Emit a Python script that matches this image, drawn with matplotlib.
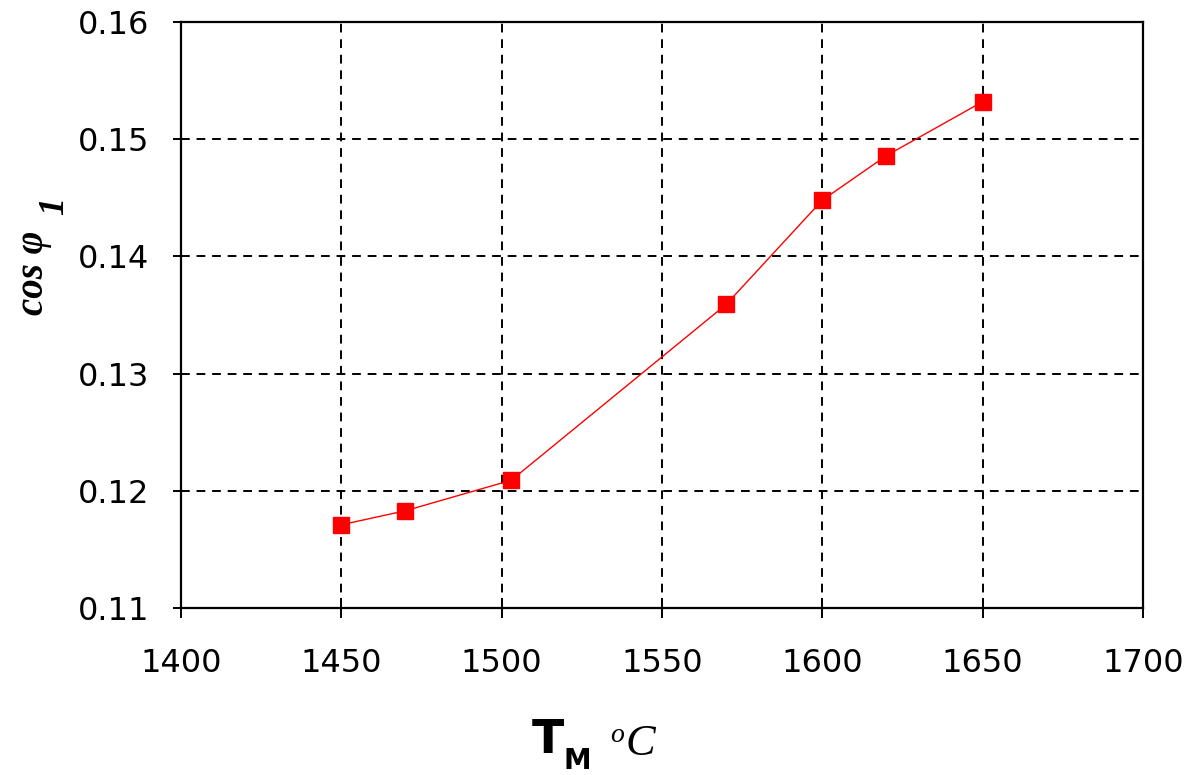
import matplotlib
matplotlib.use('Agg')
from matplotlib import pyplot as plt

# температура металла и cos phi
t_m = [1450, 1470, 1503, 1570, 1600, 1620, 1650]
cos_phi = [0.1171, 0.1183, 0.1209, 0.1359, 0.1448, 0.1486, 0.1532]

x_ticks = [1400, 1450, 1500, 1550, 1600, 1650, 1700]
y_ticks = [0.11, 0.12, 0.13, 0.14, 0.15, 0.16]

W, H = 1190, 775
fig = plt.figure(figsize=(W / 100, H / 100), dpi=100)
ax = fig.add_axes([181 / W, 1 - 608 / H, (1143 - 181) / W, (608 - 22) / H])

ax.plot(t_m, cos_phi, color='red', lw=1.0, marker='s', markersize=11,
        markerfacecolor='red', markeredgecolor='red', zorder=3)

ax.set_xlim(1400, 1700)
ax.set_ylim(0.11, 0.16)
ax.set_xticks(x_ticks)
ax.set_yticks(y_ticks)
ax.set_xticklabels([str(v) for v in x_ticks])
ax.set_yticklabels([f'{v:.2f}' for v in y_ticks])

ax.grid(True, color='black', linestyle=(0, (4.5, 3.5)), lw=1.4)
for s in ax.spines.values():
    s.set_linewidth(1.6)
    s.set_color('black')

ax.tick_params(axis='x', direction='inout', length=14, width=1.4, pad=22,
               labelsize=23, colors='black')
ax.tick_params(axis='y', direction='out', length=6, width=1.4, pad=17,
               labelsize=23, colors='black')
for lb in ax.get_xticklabels() + ax.get_yticklabels():
    lb.set_family('DejaVu Sans')

# подпись оси Y: cos φ_1
fig.text(34 / W, 1 - 315 / H, 'cos φ', rotation=90, ha='center', va='bottom',
         family='Liberation Serif', fontstyle='italic', fontweight='bold',
         fontsize=28)
fig.text(55 / W, 1 - 215 / H, '1', rotation=90, ha='center', va='bottom',
         family='Liberation Serif', fontstyle='italic', fontweight='bold',
         fontsize=26)

# подпись оси X: T_M °C
fig.text(532 / W, 1 - 753 / H, 'T', ha='left', va='baseline',
         family='DejaVu Sans', fontweight='bold', fontsize=34)
fig.text(563 / W, 1 - 769 / H, 'M', ha='left', va='baseline',
         family='DejaVu Sans', fontweight='bold', fontsize=20)
fig.text(610 / W, 1 - 742 / H, 'o', ha='left', va='baseline',
         family='Liberation Serif', fontstyle='italic', fontsize=20)
fig.text(626 / W, 1 - 755 / H, 'C', ha='left', va='baseline',
         family='Liberation Serif', fontstyle='italic', fontsize=32)

fig.savefig('out.png', dpi=100)
